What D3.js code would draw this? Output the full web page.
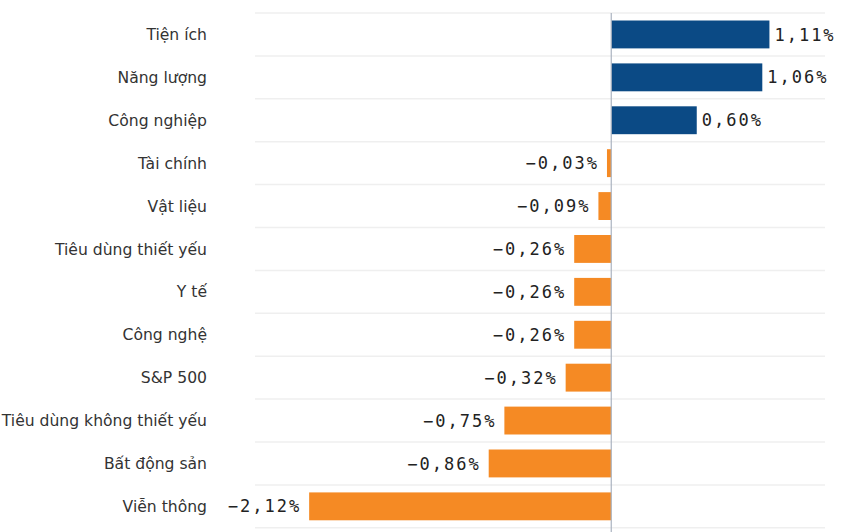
<!DOCTYPE html>
<html>
<head>
<meta charset="utf-8">
<script src="https://cdn.jsdelivr.net/npm/d3@7"></script>
<style>
  body { margin: 0; background: #fff; }
  svg { display: block; }
</style>
</head>
<body>
<div id="chart"></div>
<script>
// ---- data
var sectors = ["Tiện ích", "Năng lượng", "Công nghiệp", "Tài chính", "Vật liệu",
  "Tiêu dùng thiết yếu", "Y tế", "Công nghệ", "S&P 500",
  "Tiêu dùng không thiết yếu", "Bất động sản", "Viễn thông"];
var changes = [1.11, 1.06, 0.60, -0.03, -0.09, -0.26, -0.26, -0.26, -0.32, -0.75, -0.86, -2.12];
var xDomain = [-2.5, 1.5];

// ---- layout
var W = 860, H = 532;
var margin = {top: 13, right: 35, bottom: 4, left: 255},
    width = W - margin.left - margin.right,
    height = H - margin.top - margin.bottom;

var svg = d3.select("#chart")
  .append("svg")
    .attr("width", W)
    .attr("height", H)
  .append("g")
    .attr("transform", "translate(" + margin.left + "," + margin.top + ")");

const xScale = d3.scaleLinear()
    .domain(xDomain)
    .range([0, width]);

const yScale = d3.scaleBand()
    .domain(sectors)
    .range([0, 12 * 42.9])
    .paddingInner(0.35)
    .paddingOuter(0.175);

var data = sectors.map((s, i) => ({name: s, value: changes[i]}));
var fmt = v => (v < 0 ? "\u2212" : "") + Math.abs(v).toFixed(2).replace(".", ",") + "%";

// grid lines between rows
var step = yScale.step();
svg.append("g").selectAll("line")
  .data(d3.range(sectors.length + 1))
  .join("line")
    .attr("x1", 0).attr("x2", width)
    .attr("y1", i => i * step).attr("y2", i => i * step)
    .attr("stroke", "#efefef")
    .attr("stroke-width", 1.5);

// bars
svg.append("g").selectAll("rect")
  .data(data)
  .join("rect")
    .attr("x", d => xScale(Math.min(0, d.value)))
    .attr("width", d => Math.abs(xScale(d.value) - xScale(0)))
    .attr("y", d => yScale(d.name))
    .attr("height", yScale.bandwidth())
    .attr("fill", d => d.value >= 0 ? "#0b4a85" : "#f58a24");

// zero line
svg.append("line")
  .attr("x1", xScale(0)).attr("x2", xScale(0))
  .attr("y1", 0).attr("y2", H)
  .attr("stroke", "#aab3c0")
  .attr("stroke-width", 1.2);

// value labels
svg.append("g").selectAll("text")
  .data(data)
  .join("text")
    .attr("x", d => d.value >= 0 ? xScale(d.value) + 5 : xScale(d.value) - 8)
    .attr("y", d => yScale(d.name) + yScale.bandwidth() / 2)
    .attr("dy", "0.36em")
    .attr("text-anchor", d => d.value >= 0 ? "start" : "end")
    .style("font-family", "'DejaVu Sans Mono', monospace")
    .style("font-size", "17px")
    .style("letter-spacing", "2px")
    .attr("fill", "#222")
    .text(d => fmt(d.value));

// category labels
svg.append("g").selectAll("text")
  .data(data)
  .join("text")
    .attr("x", 207 - margin.left)
    .attr("y", d => yScale(d.name) + yScale.bandwidth() / 2)
    .attr("dy", "0.36em")
    .attr("text-anchor", "end")
    .style("font-family", "'DejaVu Sans', sans-serif")
    .style("font-size", "15.6px")
    .attr("fill", "#333")
    .text(d => d.name);
</script>
</body>
</html>
